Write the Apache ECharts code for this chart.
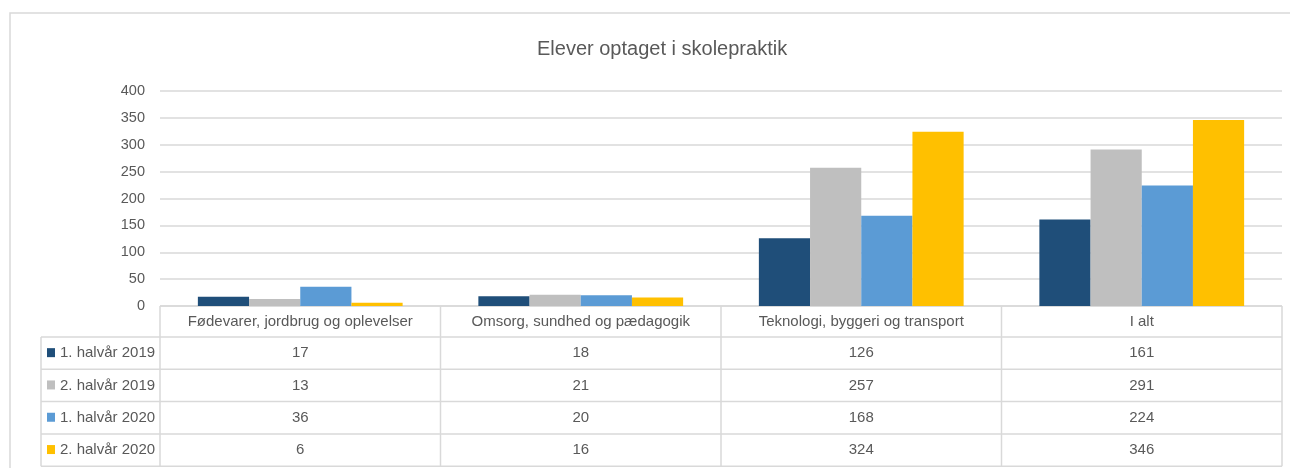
<!DOCTYPE html>
<html>
<head>
<meta charset="utf-8">
<script src="https://cdn.jsdelivr.net/npm/echarts@6/dist/echarts.min.js"></script>
<style>
  html, body { margin: 0; padding: 0; background: #fff; }
  #chart { width: 1290px; height: 468px; }
</style>
</head>
<body>
<div id="chart"></div>
<script>
// data
const categories = [
  "Fødevarer, jordbrug og oplevelser",
  "Omsorg, sundhed og pædagogik",
  "Teknologi, byggeri og transport",
  "I alt"
];
const seriesNames = ["1. halvår 2019", "2. halvår 2019", "1. halvår 2020", "2. halvår 2020"];
const h1_2019 = [17, 18, 126, 161];
const h2_2019 = [13, 21, 257, 291];
const h1_2020 = [36, 20, 168, 224];
const h2_2020 = [6, 16, 324, 346];
const yTicks = [0, 50, 100, 150, 200, 250, 300, 350, 400];

const seriesData = [h1_2019, h2_2019, h1_2020, h2_2020];
const colors = ["#1f4e79", "#bfbfbf", "#5b9bd5", "#ffc000"];

const font = "'Liberation Sans', Arial, sans-serif";
const textColor = "#595959";
const lineColor = "#d9d9d9";

// layout of plot / table
const plotLeft = 160, plotRight = 1282, plotTop = 91, plotBottom = 306;
const tableLeft = 41, headerH = 31, rowH = 32.3;

const chart = echarts.init(document.getElementById("chart"));

// 数据表（图下方）
function buildTable() {
  const els = [];
  const colW = (plotRight - plotLeft) / categories.length;
  const headerBottom = plotBottom + headerH;
  const tableBottom = headerBottom + rowH * seriesNames.length;
  const line = (x1, y1, x2, y2) => ({
    type: "line", silent: true,
    shape: { x1, y1, x2, y2 },
    style: { stroke: lineColor, lineWidth: 1.5 }
  });
  // outer frame
  els.push({
    type: "rect", silent: true,
    shape: { x: 10, y: 13, width: 1400, height: 600 },
    style: { fill: null, stroke: lineColor, lineWidth: 1.5 }
  });
  // horizontal lines
  els.push(line(plotLeft, plotBottom, plotRight, plotBottom));
  els.push(line(tableLeft, headerBottom, plotRight, headerBottom));
  for (let r = 1; r <= seriesNames.length; r++) {
    const y = headerBottom + rowH * r;
    els.push(line(tableLeft, y, plotRight, y));
  }
  // vertical lines
  els.push(line(tableLeft, headerBottom, tableLeft, tableBottom));
  for (let c = 0; c <= categories.length; c++) {
    const x = plotLeft + colW * c;
    els.push(line(x, plotBottom, x, tableBottom));
  }
  // header text
  categories.forEach((cat, c) => {
    els.push({
      type: "text", silent: true,
      x: plotLeft + colW * (c + 0.5), y: plotBottom + headerH / 2,
      style: { text: cat, font: "15px " + font, fill: textColor, align: "center", verticalAlign: "middle" }
    });
  });
  // rows
  seriesNames.forEach((name, r) => {
    const cy = headerBottom + rowH * (r + 0.5);
    els.push({
      type: "rect", silent: true,
      shape: { x: tableLeft + 6, y: cy - 5, width: 8, height: 9 },
      style: { fill: colors[r] }
    });
    els.push({
      type: "text", silent: true,
      x: tableLeft + 19, y: cy,
      style: { text: name, font: "15px " + font, fill: textColor, align: "left", verticalAlign: "middle" }
    });
    seriesData[r].forEach((v, c) => {
      els.push({
        type: "text", silent: true,
        x: plotLeft + colW * (c + 0.5), y: cy,
        style: { text: String(v), font: "15px " + font, fill: textColor, align: "center", verticalAlign: "middle" }
      });
    });
  });
  return els;
}

const option = {
  animation: false,
  title: {
    text: "Elever optaget i skolepraktik",
    left: 532,
    top: 34,
    textStyle: { fontFamily: font, fontSize: 20, fontWeight: "normal", color: textColor }
  },
  grid: {
    left: plotLeft,
    right: 1290 - plotRight,
    top: plotTop,
    bottom: 468 - plotBottom
  },
  xAxis: {
    type: "category",
    data: categories,
    axisLine: { show: false },
    axisTick: { show: false },
    axisLabel: { show: false }
  },
  yAxis: {
    type: "value",
    min: yTicks[0],
    max: yTicks[yTicks.length - 1],
    interval: 50,
    axisLine: { show: false },
    axisTick: { show: false },
    axisLabel: { fontFamily: font, fontSize: 14.5, color: textColor, margin: 15 },
    splitLine: { lineStyle: { color: lineColor, width: 1.5 } }
  },
  series: seriesNames.map((name, i) => ({
    name,
    type: "bar",
    data: seriesData[i],
    barGap: "0%",
    barCategoryGap: "27%",
    itemStyle: { color: colors[i] }
  })),
  graphic: buildTable()
};

chart.setOption(option);
</script>
</body>
</html>
